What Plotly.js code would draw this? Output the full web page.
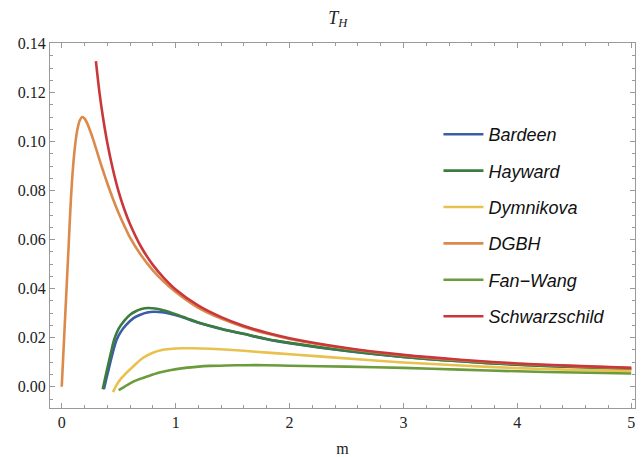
<!DOCTYPE html>
<html>
<head>
<meta charset="utf-8">
<script src="https://cdn.plot.ly/plotly-3.0.1.min.js"></script>
<style>html,body{margin:0;padding:0;background:#fff;}#chart{width:641px;height:457px;}</style>
</head>
<body>
<div id="chart"></div>
<script>
// Series names and colours
const seriesNames = ["Bardeen", "Hayward", "Dymnikova", "DGBH", "Fan\u2212Wang", "Schwarzschild"];
const seriesColors = ["#3C5CA8", "#3B7D3C", "#E8C14E", "#DB8A4B", "#6B9B3A", "#C8383B"];

// Values (m, T_H)
const bardeenM = [0.37, 0.39, 0.41, 0.44, 0.48, 0.52, 0.57, 0.63, 0.69, 0.75, 0.81, 0.88, 0.95, 1.05, 1.2, 1.4, 1.6, 1.8, 2.0, 2.5, 3.0, 3.5, 4.0, 4.5, 5.0];
const bardeenT = [-0.001, 0.003, 0.0068, 0.0125, 0.019, 0.0225, 0.0254, 0.028, 0.0294, 0.0303, 0.0306, 0.0304, 0.0298, 0.0285, 0.0261, 0.0236, 0.0215, 0.0194, 0.0178, 0.0146, 0.0122, 0.0104, 0.0090, 0.0081, 0.0073];

const haywardM = [0.36, 0.38, 0.40, 0.43, 0.46, 0.50, 0.55, 0.60, 0.65, 0.70, 0.76, 0.82, 0.90, 1.0, 1.1, 1.2, 1.4, 1.6, 1.8, 2.0, 2.5, 3.0, 3.5, 4.0, 4.5, 5.0];
const haywardT = [-0.001, 0.0033, 0.0074, 0.0135, 0.0192, 0.0237, 0.027, 0.0294, 0.0308, 0.0317, 0.0321, 0.0319, 0.0311, 0.0296, 0.0279, 0.0262, 0.0237, 0.0216, 0.0195, 0.0179, 0.0147, 0.0122, 0.0104, 0.0090, 0.0081, 0.0073];

const dymnikovaM = [0.45, 0.48, 0.52, 0.56, 0.60, 0.65, 0.70, 0.75, 0.80, 0.88, 0.95, 1.05, 1.15, 1.3, 1.5, 1.7, 1.9, 2.2, 2.6, 3.0, 3.5, 4.0, 4.5, 5.0];
const dymnikovaT = [-0.0022, 0.0006, 0.0033, 0.0053, 0.0071, 0.0093, 0.0113, 0.0128, 0.0139, 0.0150, 0.0154, 0.0157, 0.0157, 0.0155, 0.0150, 0.0143, 0.0136, 0.0126, 0.0112, 0.0099, 0.0087, 0.0076, 0.0069, 0.0064];

const dgbhM = [0, 0.02, 0.04, 0.06, 0.08, 0.10, 0.12, 0.14, 0.16, 0.18, 0.20, 0.22, 0.25, 0.28, 0.32, 0.36, 0.40, 0.45, 0.50, 0.55, 0.60, 0.70, 0.80, 0.90, 1.0, 1.2, 1.4, 1.6, 1.8, 2.0, 2.5, 3.0, 3.5, 4.0, 4.5, 5.0];
const dgbhT = [0, 0.019, 0.038, 0.057, 0.076, 0.090, 0.0995, 0.1055, 0.1088, 0.1100, 0.1094, 0.1078, 0.1043, 0.1003, 0.0943, 0.0885, 0.0830, 0.0766, 0.0708, 0.0656, 0.0608, 0.0534, 0.0475, 0.0427, 0.0387, 0.0322, 0.0278, 0.0244, 0.0217, 0.0195, 0.0156, 0.0128, 0.0108, 0.0094, 0.0084, 0.0076];

const fanWangM = [0.50, 0.55, 0.60, 0.67, 0.75, 0.85, 0.95, 1.05, 1.18, 1.3, 1.45, 1.6, 1.8, 2.0, 2.5, 3.0, 3.5, 4.0, 4.5, 5.0];
const fanWangT = [-0.0014, 0.0000, 0.0014, 0.0029, 0.0042, 0.0057, 0.0067, 0.0075, 0.0081, 0.0085, 0.0087, 0.0088, 0.0088, 0.0086, 0.0082, 0.0077, 0.0070, 0.0063, 0.0058, 0.0054];

const schwarzM = [0.30, 0.33, 0.36, 0.40, 0.45, 0.50, 0.55, 0.60, 0.70, 0.80, 0.90, 1.0, 1.2, 1.4, 1.6, 1.8, 2.0, 2.5, 3.0, 3.5, 4.0, 4.5, 5.0];
const schwarzT = [0.1328, 0.1205, 0.1105, 0.0995, 0.0885, 0.0795, 0.0723, 0.0663, 0.0568, 0.0497, 0.0442, 0.0397, 0.0331, 0.0284, 0.0248, 0.0220, 0.0198, 0.0158, 0.0130, 0.0110, 0.0095, 0.0085, 0.0077];

// Tick labels
const xTickVals = [0, 1, 2, 3, 4, 5];
const xTickText = ["0", "1", "2", "3", "4", "5"];
const yTickVals = [0, 0.02, 0.04, 0.06, 0.08, 0.10, 0.12, 0.14];
const yTickText = ["0.00", "0.02", "0.04", "0.06", "0.08", "0.10", "0.12", "0.14"];

const xs = [bardeenM, haywardM, dymnikovaM, dgbhM, fanWangM, schwarzM];
const ys = [bardeenT, haywardT, dymnikovaT, dgbhT, fanWangT, schwarzT];

const traces = seriesNames.map((name, i) => ({
  type: "scatter",
  mode: "lines",
  x: xs[i],
  y: ys[i],
  name: "<i>" + name + "</i>",
  legendgroup: "g" + i,
  line: {color: seriesColors[i], width: 2.6, shape: "spline", smoothing: 0.8}
}));

const serif = "Liberation Serif, Times New Roman, serif";
const axisCommon = {
  showline: true, linecolor: "#9a9a9a", linewidth: 1, mirror: "allticks",
  ticks: "inside", ticklen: 5, tickcolor: "#9a9a9a", tickwidth: 1,
  showgrid: false, zeroline: false,
  tickfont: {family: serif, size: 16, color: "#222"}
};

const layout = {
  width: 641, height: 457,
  margin: {l: 50, r: 6, t: 43, b: 49},
  paper_bgcolor: "#fff", plot_bgcolor: "#fff",
  showlegend: true,
  title: {text: "<i>T</i><sub><i>H</i></sub>", font: {family: serif, size: 18, color: "#222"}, x: 0.527, xanchor: "center", y: 0.962, yanchor: "middle"},
  xaxis: Object.assign({}, axisCommon, {
    range: [-0.103, 5.033], tickvals: xTickVals, ticktext: xTickText,
    minor: {ticks: "inside", ticklen: 3, dtick: 0.2, tick0: 0, tickcolor: "#9a9a9a", showgrid: false},
    title: {text: "m", font: {family: serif, size: 16, color: "#222"}, standoff: 15}
  }),
  yaxis: Object.assign({}, axisCommon, {
    range: [-0.00866, 0.1402], tickvals: yTickVals, ticktext: yTickText,
    minor: {ticks: "inside", ticklen: 3, dtick: 0.005, tick0: 0, tickcolor: "#9a9a9a", showgrid: false}
  }),
  legend: {
    x: 0.664, y: 0.8, xanchor: "left", yanchor: "top",
    traceorder: "grouped", tracegroupgap: 10, itemwidth: 40,
    font: {family: "Liberation Sans, Arial, sans-serif", size: 18, color: "#111"},
    bgcolor: "rgba(255,255,255,0)", borderwidth: 0
  }
};

Plotly.newPlot("chart", traces, layout, {staticPlot: true, displayModeBar: false});
</script>
</body>
</html>
